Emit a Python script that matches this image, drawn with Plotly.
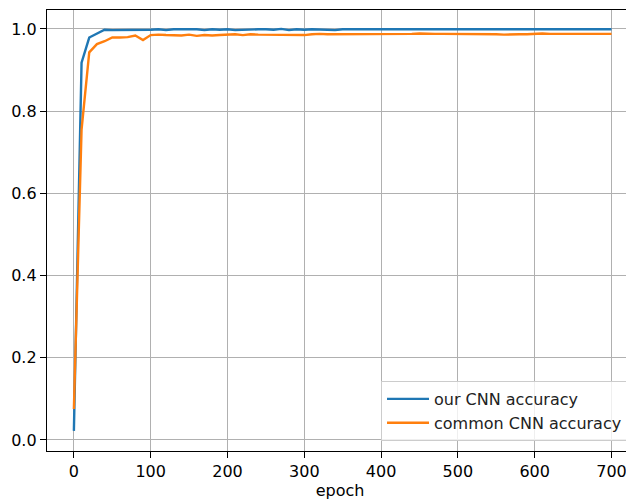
import plotly.graph_objects as go

epochs = list(range(0, 701, 10))
our_cnn = [0.022, 0.918, 0.979, 0.988, 0.998, 0.997, 0.997, 0.998, 0.998, 0.997,
           0.998, 0.999, 0.997, 0.999, 0.999, 0.998, 0.999, 0.997, 0.999, 0.998,
           0.999, 0.997, 0.998, 0.999, 0.999, 0.999, 0.998, 1.000, 0.997, 0.999,
           0.998, 0.999, 0.998, 0.998, 0.997, 0.999, 0.999, 0.998, 0.998, 0.999,
           0.999, 0.998, 0.999, 0.998, 0.999, 0.998, 0.998, 0.999, 0.998, 0.999,
           0.999, 0.999, 0.998, 0.999, 0.999, 0.999, 0.998, 0.999, 0.999, 0.999,
           0.998, 0.999, 0.999, 0.999, 0.999, 0.999, 0.999, 0.999, 0.999, 0.999,
           0.999]
common_cnn = [0.075, 0.755, 0.943, 0.963, 0.970, 0.979, 0.979, 0.980, 0.984, 0.973,
              0.985, 0.986, 0.985, 0.985, 0.984, 0.986, 0.983, 0.985, 0.984, 0.985,
              0.986, 0.987, 0.985, 0.987, 0.986, 0.986, 0.985, 0.986, 0.986, 0.986,
              0.985, 0.987, 0.988, 0.987, 0.987, 0.987, 0.988, 0.987, 0.987, 0.988,
              0.987, 0.987, 0.988, 0.987, 0.988, 0.989, 0.988, 0.988, 0.988, 0.988,
              0.988, 0.987, 0.988, 0.987, 0.988, 0.987, 0.986, 0.987, 0.987, 0.987,
              0.988, 0.989, 0.988, 0.988, 0.988, 0.988, 0.989, 0.989, 0.989, 0.988,
              0.988]
x_ticks = [0, 100, 200, 300, 400, 500, 600, 700]
y_ticks = [0.0, 0.2, 0.4, 0.6, 0.8, 1.0]

fig = go.Figure()
fig.add_trace(go.Scatter(x=epochs, y=our_cnn, mode="lines", name="our CNN accuracy",
                         line=dict(color="#1f77b4", width=2.4)))
fig.add_trace(go.Scatter(x=epochs, y=common_cnn, mode="lines", name="common CNN accuracy",
                         line=dict(color="#ff7f0e", width=2.4)))

axis_common = dict(showline=True, linecolor="black", linewidth=1.3, mirror=True,
                   showgrid=True, gridcolor="#b0b0b0", gridwidth=1.3, zeroline=False,
                   ticks="outside", ticklen=6, tickwidth=1.3, tickcolor="black",
                   tickfont=dict(family="DejaVu Sans", size=16, color="black"))

# The page places the figure 8px in from the window's top-left corner,
# so the figure is sized and its margins set to compensate.
fig.update_layout(
    width=626, height=492,
    margin=dict(l=39, r=1, t=2, b=49, autoexpand=False),
    paper_bgcolor="white", plot_bgcolor="white",
    font=dict(family="DejaVu Sans", size=16, color="black"),
    xaxis=dict(range=[-35, 728], tickvals=x_ticks,
               ticktext=[str(v) for v in x_ticks],
               title=dict(text="epoch", standoff=2, font=dict(size=16)), **axis_common),
    yaxis=dict(range=[-0.027, 1.046], tickvals=y_ticks,
               ticktext=[f"{v:.1f}" for v in y_ticks], **axis_common),
    legend=dict(x=0.9915, y=0.0227, xanchor="right", yanchor="bottom",
                bgcolor="rgba(255,255,255,0.8)", bordercolor="#cccccc", borderwidth=1,
                font=dict(family="DejaVu Sans", size=16, color="#222222"),
                itemwidth=42, tracegroupgap=0),
    showlegend=True,
)

fig.write_html("out.html")
